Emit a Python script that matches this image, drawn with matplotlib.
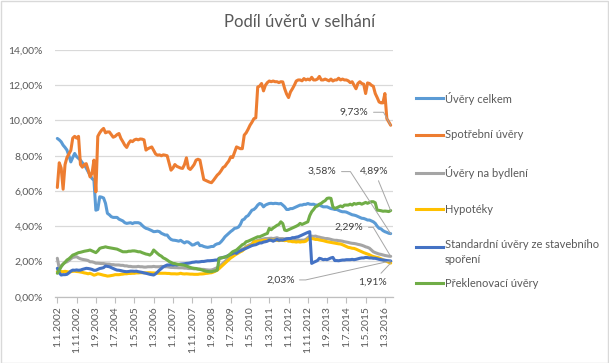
import numpy as np
import matplotlib
matplotlib.use("Agg")
import matplotlib.pyplot as plt
from matplotlib.lines import Line2D
from matplotlib.patches import Rectangle

plt.rcParams['font.family'] = ['Lato', 'DejaVu Sans']

# ---------------- data (monthly, 1.1.2002 - 1.6.2016) ----------------
uvery_celkem = [
    8.98, 8.9, 8.79, 8.6, 8.47, 8.32, 8.0, 7.65, 7.9, 8.13, 7.95, 7.85,
    7.75, 7.6, 7.47, 7.3, 7.09, 6.9, 6.71, 6.6, 4.91, 4.95, 5.67, 5.65,
    5.6, 5.3, 4.73, 4.65, 4.54, 4.5, 4.5, 4.5, 4.4, 4.35, 4.3, 4.2,
    4.16, 4.18, 4.2, 4.15, 4.2, 4.2, 4.2, 4.16, 4.05, 3.95, 3.88, 3.85,
    3.8, 3.75, 3.69, 3.7, 3.72, 3.69, 3.6, 3.55, 3.5, 3.5, 3.35, 3.25,
    3.21, 3.2, 3.18, 3.15, 3.2, 3.12, 3.05, 3.12, 3.1, 3.02, 2.93, 2.95,
    3.02, 3.06, 2.9, 2.9, 2.85, 2.82, 2.8, 2.82, 2.85, 2.85, 2.95, 3.0,
    3.02, 3.12, 3.25, 3.4, 3.5, 3.6, 3.7, 3.78, 3.88, 3.9, 3.95, 4.1,
    4.35, 4.4, 4.54, 4.6, 4.75, 4.91, 4.95, 5.05, 5.2, 5.29, 5.25, 5.1,
    5.2, 5.25, 5.29, 5.3, 5.28, 5.3, 5.29, 5.27, 5.29, 5.2, 5.1, 4.95,
    4.95, 5.0, 5.0, 5.05, 5.1, 5.15, 5.2, 5.2, 5.24, 5.24, 5.29, 5.25,
    5.24, 5.25, 5.2, 5.2, 5.2, 5.15, 5.1, 5.1, 5.1, 5.05, 5.0, 4.98,
    4.95, 4.95, 4.9, 4.85, 4.82, 4.82, 4.8, 4.75, 4.7, 4.65, 4.63, 4.6,
    4.55, 4.5, 4.45, 4.44, 4.4, 4.35, 4.35, 4.3, 4.25, 4.16, 4.0, 3.88,
    3.85, 3.75, 3.69, 3.65, 3.6, 3.58,
]
spotrebni = [
    6.2, 7.6, 7.3, 6.1, 7.5, 7.9, 8.1, 8.3, 9.0, 9.1, 9.0, 9.1,
    7.5, 7.35, 7.5, 7.55, 7.2, 6.8, 7.0, 7.75, 5.95, 9.1, 9.3, 9.45,
    9.55, 9.3, 9.35, 9.35, 9.2, 9.05, 9.1, 9.2, 9.26, 8.98, 8.8, 8.6,
    8.47, 8.7, 8.85, 8.8, 8.9, 8.94, 8.9, 8.95, 8.94, 8.9, 8.32, 8.4,
    8.45, 8.5, 8.3, 8.1, 8.03, 8.05, 8.0, 8.05, 8.03, 8.0, 7.6, 7.18,
    7.3, 7.5, 7.4, 7.35, 7.3, 7.28, 7.5, 7.88, 7.3, 7.22, 7.35, 7.5,
    7.75, 7.8, 7.75, 7.2, 6.65, 6.6, 6.55, 6.5, 6.47, 6.6, 6.75, 6.9,
    7.0, 7.15, 7.33, 7.4, 7.56, 7.7, 7.94, 7.9, 8.2, 8.5, 8.45, 8.4,
    8.4, 9.17, 9.3, 9.5, 9.73, 9.9, 10.1, 10.15, 11.9, 11.95, 12.1, 11.68,
    12.0, 12.15, 12.24, 12.2, 12.24, 12.2, 12.2, 12.15, 12.2, 12.19, 11.8, 11.5,
    11.3, 11.62, 11.8, 12.0, 12.24, 12.3, 12.3, 12.25, 12.38, 12.3, 12.35, 12.3,
    12.45, 12.3, 12.3, 12.35, 12.5, 12.3, 12.3, 12.35, 12.3, 12.25, 12.35, 12.24,
    12.3, 12.3, 12.4, 12.3, 12.35, 12.3, 12.3, 12.25, 12.15, 12.2, 12.0, 11.8,
    12.1, 12.2, 12.1, 12.06, 11.53, 12.13, 12.1, 12.0, 11.94, 11.53, 11.3, 11.05,
    11.0, 11.0, 11.53, 10.11, 9.92, 9.73,
]
na_bydleni = [
    2.18, 1.61, 1.75, 1.85, 1.95, 1.98, 2.05, 2.15, 2.23, 2.25, 2.27, 2.2,
    2.15, 2.12, 2.1, 2.08, 2.05, 1.98, 1.98, 1.95, 1.9, 1.9, 1.89, 1.88,
    1.88, 1.86, 1.85, 1.85, 1.82, 1.82, 1.8, 1.8, 1.8, 1.78, 1.78, 1.75,
    1.75, 1.72, 1.72, 1.7, 1.7, 1.7, 1.72, 1.7, 1.7, 1.68, 1.68, 1.7,
    1.7, 1.7, 1.72, 1.7, 1.7, 1.7, 1.72, 1.7, 1.7, 1.7, 1.68, 1.66,
    1.66, 1.65, 1.65, 1.64, 1.64, 1.64, 1.62, 1.62, 1.6, 1.6, 1.6, 1.58,
    1.58, 1.57, 1.57, 1.55, 1.55, 1.53, 1.52, 1.51, 1.52, 1.55, 1.6, 1.65,
    1.7, 1.8, 1.9, 2.0, 2.1, 2.2, 2.3, 2.4, 2.45, 2.5, 2.55, 2.65,
    2.7, 2.75, 2.85, 2.9, 2.95, 3.0, 3.12, 3.15, 3.2, 3.22, 3.25, 3.28,
    3.3, 3.3, 3.31, 3.32, 3.3, 3.32, 3.35, 3.3, 3.3, 3.3, 3.28, 3.3,
    3.3, 3.28, 3.25, 3.25, 3.22, 3.22, 3.2, 3.21, 3.21, 3.25, 3.35, 3.42,
    3.44, 3.42, 3.44, 3.4, 3.38, 3.35, 3.33, 3.3, 3.3, 3.28, 3.25, 3.22,
    3.2, 3.2, 3.18, 3.17, 3.15, 3.12, 3.1, 3.08, 3.05, 3.03, 3.02, 3.0,
    2.97, 2.95, 2.92, 2.88, 2.83, 2.8, 2.75, 2.65, 2.55, 2.5, 2.46, 2.42,
    2.4, 2.37, 2.34, 2.32, 2.3, 2.29,
]
hypoteky = [
    1.42, 1.42, 1.43, 1.42, 1.44, 1.42, 1.4, 1.42, 1.44, 1.45, 1.43, 1.42,
    1.4, 1.38, 1.35, 1.33, 1.3, 1.33, 1.28, 1.22, 1.25, 1.3, 1.28, 1.25,
    1.22, 1.2, 1.17, 1.18, 1.2, 1.22, 1.25, 1.25, 1.25, 1.27, 1.28, 1.3,
    1.3, 1.32, 1.32, 1.33, 1.33, 1.35, 1.35, 1.36, 1.36, 1.36, 1.35, 1.36,
    1.36, 1.35, 1.35, 1.34, 1.33, 1.33, 1.33, 1.33, 1.33, 1.32, 1.32, 1.3,
    1.3, 1.3, 1.29, 1.3, 1.33, 1.3, 1.29, 1.3, 1.29, 1.28, 1.28, 1.27,
    1.27, 1.27, 1.29, 1.29, 1.3, 1.32, 1.33, 1.35, 1.36, 1.4, 1.45, 1.51,
    1.6, 1.7, 1.8, 1.9, 2.0, 2.1, 2.2, 2.27, 2.35, 2.42, 2.48, 2.55,
    2.6, 2.7, 2.8, 2.85, 2.9, 2.95, 3.12, 3.12, 3.15, 3.15, 3.18, 3.2,
    3.2, 3.2, 3.2, 3.22, 3.2, 3.22, 3.2, 3.18, 3.2, 3.2, 3.18, 3.2,
    3.15, 3.15, 3.12, 3.12, 3.1, 3.12, 3.1, 3.12, 3.12, 3.15, 3.25, 3.3,
    3.3, 3.28, 3.25, 3.25, 3.22, 3.2, 3.18, 3.15, 3.12, 3.1, 3.08, 3.06,
    3.04, 3.02, 3.0, 2.99, 2.95, 2.9, 2.85, 2.8, 2.78, 2.75, 2.74, 2.7,
    2.65, 2.6, 2.55, 2.5, 2.46, 2.42, 2.38, 2.32, 2.28, 2.25, 2.23, 2.2,
    2.15, 2.1, 2.05, 2.0, 1.95, 1.91,
]
stavebni_sporeni = [
    1.61, 1.35, 1.23, 1.25, 1.25, 1.27, 1.35, 1.45, 1.51, 1.5, 1.52, 1.5,
    1.51, 1.55, 1.58, 1.61, 1.6, 1.58, 1.55, 1.5, 1.5, 1.55, 1.6, 1.62,
    1.65, 1.74, 1.72, 1.7, 1.65, 1.6, 1.55, 1.51, 1.5, 1.48, 1.45, 1.43,
    1.42, 1.43, 1.45, 1.45, 1.44, 1.45, 1.42, 1.4, 1.38, 1.35, 1.33, 1.3,
    1.27, 1.25, 1.23, 1.3, 1.4, 1.51, 1.6, 1.7, 1.75, 1.8, 1.8, 1.82,
    1.8, 1.82, 1.8, 1.83, 1.85, 1.86, 1.87, 1.89, 1.9, 1.92, 1.95, 1.96,
    1.98, 1.97, 1.98, 2.0, 2.0, 2.02, 2.04, 2.04, 2.05, 2.06, 2.08, 2.08,
    2.18, 2.2, 2.23, 2.25, 2.3, 2.35, 2.4, 2.45, 2.5, 2.46, 2.55, 2.6,
    2.65, 2.7, 2.75, 2.8, 2.85, 2.9, 2.93, 2.95, 3.0, 3.05, 3.05, 3.1,
    3.12, 3.15, 3.21, 3.2, 3.15, 3.2, 3.25, 3.2, 3.22, 3.21, 3.25, 3.28,
    3.3, 3.3, 3.35, 3.35, 3.38, 3.4, 3.45, 3.5, 3.55, 3.6, 3.65, 3.69,
    1.89, 1.95, 2.0, 2.05, 2.18, 2.15, 2.1, 2.12, 2.1, 2.15, 2.2, 2.23,
    2.05, 2.05, 2.04, 2.06, 2.08, 2.08, 2.1, 2.1, 2.1, 2.12, 2.1, 2.12,
    2.15, 2.18, 2.2, 2.2, 2.23, 2.22, 2.2, 2.2, 2.18, 2.18, 2.15, 2.12,
    2.1, 2.08, 2.07, 2.05, 2.04, 2.03,
]
preklenovaci = [
    1.33, 1.5, 1.7, 1.85, 1.95, 2.08, 2.15, 2.25, 2.36, 2.4, 2.45, 2.5,
    2.52, 2.55, 2.58, 2.6, 2.62, 2.65, 2.6, 2.55, 2.5, 2.6, 2.74, 2.78,
    2.8, 2.83, 2.8, 2.78, 2.76, 2.74, 2.72, 2.7, 2.65, 2.6, 2.55, 2.55,
    2.55, 2.58, 2.58, 2.6, 2.6, 2.58, 2.55, 2.55, 2.5, 2.46, 2.42, 2.4,
    2.36, 2.45, 2.65, 2.55, 2.45, 2.36, 2.3, 2.2, 2.15, 2.08, 2.0, 1.95,
    1.89, 1.88, 1.85, 1.83, 1.82, 1.8, 1.78, 1.75, 1.7, 1.66, 1.63, 1.61,
    1.6, 1.57, 1.55, 1.52, 1.48, 1.45, 1.43, 1.42, 1.42, 1.45, 1.47, 1.51,
    2.18, 2.2, 2.22, 2.25, 2.27, 2.35, 2.45, 2.55, 2.6, 2.65, 2.75, 2.85,
    2.95, 3.0, 3.12, 3.15, 3.2, 3.25, 3.3, 3.35, 3.4, 3.4, 3.45, 3.5,
    3.55, 3.59, 3.88, 3.8, 3.9, 3.97, 4.05, 4.1, 4.25, 4.15, 3.78, 3.75,
    3.8, 3.85, 3.9, 3.95, 4.0, 4.06, 4.16, 4.1, 4.15, 4.2, 4.25, 4.6,
    4.82, 4.95, 5.1, 5.15, 5.25, 5.3, 5.39, 5.45, 5.58, 5.6, 5.58, 5.1,
    5.01, 5.05, 5.1, 5.15, 5.1, 5.2, 5.2, 5.2, 5.25, 5.2, 5.29, 5.25,
    5.29, 5.3, 5.25, 5.3, 5.35, 5.3, 5.35, 5.39, 5.39, 5.33, 4.91, 4.9,
    4.88, 4.85, 4.86, 4.85, 4.83, 4.89,
]

series_names = ["Úvěry celkem", "Spotřební úvěry", "Úvěry na bydlení", "Hypotéky",
                "Standardní úvěry ze stavebního\nspoření", "Překlenovací úvěry"]
series_values = [uvery_celkem, spotrebni, na_bydleni, hypoteky, stavebni_sporeni, preklenovaci]
colors = ["#5B9BD5", "#ED7D31", "#A5A5A5", "#FFC000", "#4472C4", "#70AD47"]

x_tick_labels = ["1.1.2002", "1.11.2002", "1.9.2003", "1.7.2004", "1.5.2005", "1.3.2006",
                 "1.1.2007", "1.11.2007", "1.9.2008", "1.7.2009", "1.5.2010", "1.3.2011",
                 "1.1.2012", "1.11.2012", "1.9.2013", "1.7.2014", "1.5.2015", "1.3.2016"]
tick_step = 10  # months between labels
y_ticks = [0, 2, 4, 6, 8, 10, 12, 14]
y_tick_labels = ["0,00%", "2,00%", "4,00%", "6,00%", "8,00%", "10,00%", "12,00%", "14,00%"]
title = "Podíl úvěrů v selhání"

# end-of-series data labels: (series index, label, offset px (dx, dy), ha, connection)
end_labels = [
    (1, "9,73%", (-22, 13), "right", "angle,angleA=0,angleB=119,rad=0"),
    (0, "3,58%", (-54, 62), "right", "angle,angleA=0,angleB=123,rad=0"),
    (5, "4,89%", (-16, 39), "center", "arc3,rad=0"),
    (2, "2,29%", (-27, 29), "right", "angle,angleA=0,angleB=121,rad=0"),
    (4, "2,03%", (-96, -19), "right", "angle,angleA=0,angleB=12.6,rad=0"),
    (3, "1,91%", (-18, -19), "center", "arc3,rad=0"),
]

# ---------------- figure ----------------
W, H = 609, 363
fig = plt.figure(figsize=(W / 100, H / 100), dpi=100)
fig.patch.set_facecolor("white")
fig.add_artist(Rectangle((0.5 / W, 0.5 / H), 1 - 1.5 / W, 1 - 1.5 / H,
                         transform=fig.transFigure, fill=False,
                         edgecolor="#d9d9d9", lw=1))

n = len(uvery_celkem)
x = np.arange(n)

ax = fig.add_axes([55.4 / W, 66.3 / H, (392.6 - 55.4) / W, (296.7 - 50) / H])
for vals, c in zip(series_values, colors):
    ax.plot(x, vals, color=c, lw=2.2, solid_joinstyle="round", solid_capstyle="round", zorder=3)

ax.set_xlim(-1, n)
ax.set_ylim(0, 14)
ax.set_yticks(y_ticks)
ax.set_yticklabels(y_tick_labels)
ax.set_xticks(np.arange(len(x_tick_labels)) * tick_step)
ax.set_xticklabels(x_tick_labels, rotation=90)
ax.grid(axis="y", color="#d9d9d9", lw=0.9)
ax.set_axisbelow(True)
for s in ["left", "right", "top"]:
    ax.spines[s].set_visible(False)
ax.spines["bottom"].set_color("#bfbfbf")
ax.spines["bottom"].set_linewidth(0.9)
ax.tick_params(axis="y", length=0, labelsize=7.5, labelcolor="#595959", pad=9)
ax.tick_params(axis="x", length=4, color="#bfbfbf", labelsize=7.5, labelcolor="#595959", pad=3)

fig.text(300 / W, 1 - 22 / H, title, ha="center", va="center", fontsize=12, color="#595959")

# data labels with leader lines
for idx, lab, (dx, dy), ha, conn in end_labels:
    vals = series_values[idx]
    ax.annotate(lab, xy=(n - 1, vals[-1]), xytext=(dx * 0.72, dy * 0.72),
                textcoords="offset points", ha=ha, va="center", fontsize=7.5,
                color="#404040", zorder=5,
                arrowprops=dict(arrowstyle="-", color="#a6a6a6", lw=0.7,
                                shrinkA=1.5, shrinkB=0, connectionstyle=conn))

# legend (right side)
leg_y = [98.3, 135, 172.7, 209.3, 246.7, 283.3]
for name, c, yy in zip(series_names, colors, leg_y):
    fig.add_artist(Line2D([416 / W, 443 / W], [1 - yy / H, 1 - yy / H],
                          transform=fig.transFigure, color=c, lw=2.2))
    if "\n" in name:
        fig.text(445 / W, 1 - (yy - 7.5) / H, name, ha="left", va="top",
                 fontsize=8, color="#595959", linespacing=1.45)
    else:
        fig.text(445 / W, 1 - yy / H, name, ha="left", va="center",
                 fontsize=8, color="#595959")

fig.savefig("out.png", dpi=100, facecolor="white")
